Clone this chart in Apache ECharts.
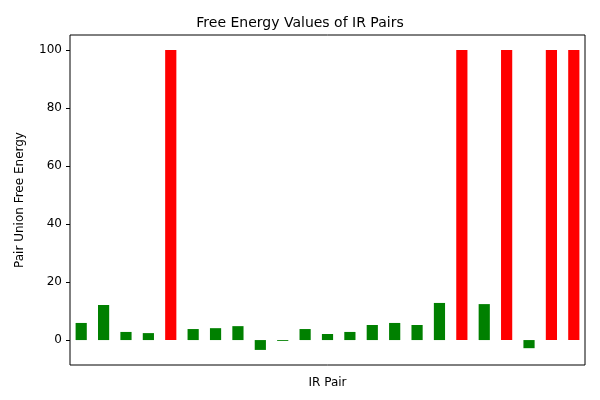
<!DOCTYPE html>
<html><head><meta charset="utf-8">
<script src="https://cdn.jsdelivr.net/npm/echarts@6/dist/echarts.min.js"></script>
<style>html,body{margin:0;padding:0;background:#fff}#c{width:600px;height:400px}</style>
</head><body><div id="c"></div>
<script>
const categories = Array.from({length:23},(_,i)=>'P'+(i+1));
const values = [5.9,12.1,2.8,2.4,100,3.8,4.1,4.8,-3.4,-0.3,3.8,2.1,2.8,5.2,5.9,5.2,12.8,100,12.4,100,-2.8,100,100];
const isRed = [false,false,false,false,true,false,false,false,false,false,false,false,false,false,false,false,false,true,false,true,false,true,true];
const yTicks = [0,20,40,60,80,100];
const chart = echarts.init(document.getElementById('c'));
chart.setOption({
  animation:false,
  title:{text:'Free Energy Values of IR Pairs',left:'center',top:11,textStyle:{fontFamily:'DejaVu Sans',fontSize:14,fontWeight:'normal',color:'#000'}},
  grid:{left:70,right:15,top:35,bottom:35,show:true,borderColor:'#000',borderWidth:1,backgroundColor:'transparent'},
  xAxis:{type:'category',data:categories,axisLabel:{show:false},axisTick:{show:false},axisLine:{show:false},
    name:'IR Pair',nameLocation:'middle',nameGap:12,nameTextStyle:{fontFamily:'DejaVu Sans',fontSize:12,color:'#000'}},
  yAxis:{type:'value',min:-8.6,max:105.2,splitLine:{show:false},axisLine:{show:false},
    axisTick:{show:true,length:4,inside:false,customValues:yTicks,lineStyle:{color:'#000'}},
    axisLabel:{customValues:yTicks,fontFamily:'DejaVu Sans',fontSize:12,color:'#000',margin:8},
    name:'Pair Union Free Energy',nameLocation:'middle',nameGap:44,nameTextStyle:{fontFamily:'DejaVu Sans',fontSize:12,color:'#000'}},
  series:[{type:'bar',barWidth:'50%',
    data:values.map((v,i)=>({value:v,itemStyle:{color:isRed[i]?'#ff0000':'#008000'}}))}]
});
</script></body></html>
